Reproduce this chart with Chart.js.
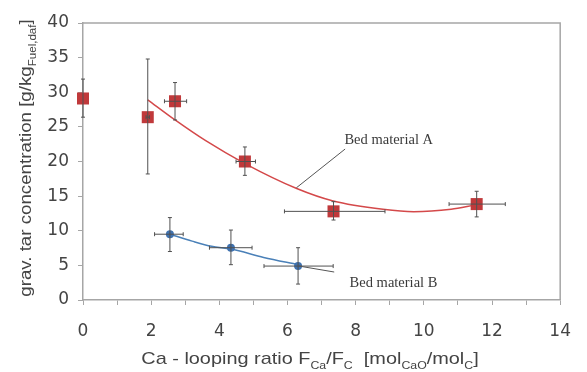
<!DOCTYPE html>
<html>
<head>
<meta charset="utf-8">
<script src="https://cdn.jsdelivr.net/npm/chart.js@4/dist/chart.umd.min.js"></script>
<style>
  html, body { margin: 0; padding: 0; background: #fff; }
  #wrap { width: 587px; height: 372px; }
</style>
</head>
<body>
<div id="wrap"><canvas id="chart"></canvas></div>
<script>
// bed material A (red squares)
const xA = [0, 1.9, 2.7, 4.75, 7.35, 11.55];
const yA = [29.1, 26.4, 28.7, 20.0, 12.8, 13.85];
const yLoA = [26.4, 18.2, 26.0, 18.0, 11.55, 12.0];
const yHiA = [31.9, 34.8, 31.4, 22.1, 14.2, 15.7];
const xLoA = [0, 1.85, 2.39, 4.49, 5.91, 10.74];
const xHiA = [0, 1.95, 3.04, 5.06, 8.86, 12.39];

// bed material B (blue dots)
const xB = [2.55, 4.34, 6.31];
const yB = [9.5, 7.55, 4.9];
const yLoB = [7.0, 5.1, 2.3];
const yHiB = [11.9, 10.1, 7.55];
const xLoB = [2.1, 3.71, 5.31];
const xHiB = [2.94, 4.96, 7.34];

// fitted trend lines
const fitAx = [1.9, 2.7, 3.6, 4.75, 6.27, 7.34, 8.8, 9.7, 10.8, 11.5];
const fitAy = [28.9, 26.0, 23.0, 19.7, 16.1, 14.3, 13.1, 12.75, 13.1, 13.7];
const fitBx = [2.55, 3.2, 3.77, 4.34, 5.3, 6.31];
const fitBy = [9.5, 8.5, 7.75, 7.35, 6.15, 5.1];

// annotations: [text, labelX, labelY, lineX1, lineY1, lineX2, lineY2]
const notes = [
  ['Bed material A', 8.97, 23.1, 7.69, 21.8, 6.26, 16.2],
  ['Bed material B', 9.11, 2.45, 6.34, 4.9, 7.37, 4.04]
];

const xTitle = [['Ca - looping ratio F', 0], ['Ca', 1], ['/F', 0], ['C', 1], ['  [mol', 0], ['CaO', 1], ['/mol', 0], ['C', 1], [']', 0]];
const yTitle = [['grav. tar concentration [g/kg', 0], ['Fuel,daf', 1], [']', 0]];

const textCol = '#444';
const axisCol = '#a6a6a6';

function pts(xs, ys) {
  return xs.map((x, i) => ({ x: x, y: ys[i] }));
}

function richWidth(ctx, parts, size, stretch) {
  let w = 0;
  parts.forEach(p => {
    ctx.font = (p[1] ? size * 0.62 : size) + 'px "Liberation Sans", Arial, sans-serif';
    w += ctx.measureText(p[0]).width;
  });
  return w * stretch;
}

function drawRich(ctx, parts, size, stretch) {
  const total = richWidth(ctx, parts, size, stretch);
  ctx.save();
  ctx.scale(stretch, 1);
  let x = -total / 2 / stretch;
  parts.forEach(p => {
    ctx.font = (p[1] ? size * 0.62 : size) + 'px "Liberation Sans", Arial, sans-serif';
    ctx.fillText(p[0], x, p[1] ? size * 0.28 : 0);
    x += ctx.measureText(p[0]).width;
  });
  ctx.restore();
}

const extras = {
  id: 'extras',
  afterDatasetsDraw(chart) {
    const ctx = chart.ctx;
    const xs = chart.scales.x, ys = chart.scales.y;
    const a = chart.chartArea;

    // frame on top and right
    ctx.save();
    ctx.strokeStyle = axisCol;
    ctx.lineWidth = 1.5;
    ctx.beginPath();
    ctx.moveTo(a.left, a.top);
    ctx.lineTo(a.right, a.top);
    ctx.lineTo(a.right, a.bottom);
    ctx.stroke();

    // error bars
    ctx.strokeStyle = '#505050';
    ctx.lineWidth = 1;
    function errs(xv, yv, ylo, yhi, xlo, xhi) {
      xv.forEach((x, i) => {
        const px = xs.getPixelForValue(x), py = ys.getPixelForValue(yv[i]);
        const t = ys.getPixelForValue(yhi[i]), b = ys.getPixelForValue(ylo[i]);
        ctx.beginPath();
        ctx.moveTo(px, t); ctx.lineTo(px, b);
        ctx.moveTo(px - 2, t); ctx.lineTo(px + 2, t);
        ctx.moveTo(px - 2, b); ctx.lineTo(px + 2, b);
        if (xhi[i] > xlo[i]) {
          const l = xs.getPixelForValue(xlo[i]), r = xs.getPixelForValue(xhi[i]);
          ctx.moveTo(l, py); ctx.lineTo(r, py);
          ctx.moveTo(l, py - 2); ctx.lineTo(l, py + 2);
          ctx.moveTo(r, py - 2); ctx.lineTo(r, py + 2);
        }
        ctx.stroke();
      });
    }
    errs(xA, yA, yLoA, yHiA, xLoA, xHiA);
    errs(xB, yB, yLoB, yHiB, xLoB, xHiB);

    // annotations
    ctx.strokeStyle = '#555';
    ctx.fillStyle = '#3a3a3a';
    ctx.font = '14.5px "Liberation Serif", "Times New Roman", serif';
    ctx.textAlign = 'center';
    ctx.textBaseline = 'middle';
    notes.forEach(n => {
      ctx.fillText(n[0], xs.getPixelForValue(n[1]), ys.getPixelForValue(n[2]));
      ctx.beginPath();
      ctx.moveTo(xs.getPixelForValue(n[3]), ys.getPixelForValue(n[4]));
      ctx.lineTo(xs.getPixelForValue(n[5]), ys.getPixelForValue(n[6]));
      ctx.stroke();
    });
    ctx.restore();
  },
  afterDraw(chart) {
    const ctx = chart.ctx;
    ctx.save();
    ctx.fillStyle = textCol;
    ctx.textAlign = 'left';
    ctx.textBaseline = 'alphabetic';
    ctx.save();
    ctx.translate(310, 364);
    drawRich(ctx, xTitle, 17, 1.17);
    ctx.restore();
    ctx.save();
    ctx.translate(31, 158);
    ctx.rotate(-Math.PI / 2);
    drawRich(ctx, yTitle, 17, 1.1);
    ctx.restore();
    ctx.restore();
  }
};

new Chart(document.getElementById('chart'), {
  type: 'scatter',
  data: {
    datasets: [
      {
        label: 'fit A',
        data: pts(fitAx, fitAy),
        showLine: true,
        borderColor: '#d4494a',
        borderWidth: 1.5,
        pointRadius: 0,
        cubicInterpolationMode: 'monotone',
        order: 3
      },
      {
        label: 'fit B',
        data: pts(fitBx, fitBy),
        showLine: true,
        borderColor: '#4a80b8',
        borderWidth: 1.5,
        pointRadius: 0,
        cubicInterpolationMode: 'monotone',
        order: 3
      },
      {
        label: 'Bed material A',
        data: pts(xA, yA),
        pointStyle: 'rect',
        pointRadius: 8.5,
        backgroundColor: '#c0393b',
        borderColor: '#c0393b',
        borderWidth: 0,
        clip: false,
        order: 1
      },
      {
        label: 'Bed material B',
        data: pts(xB, yB),
        pointStyle: 'circle',
        pointRadius: 4,
        backgroundColor: '#3f72b0',
        borderColor: '#3f72b0',
        borderWidth: 0,
        clip: false,
        order: 1
      }
    ]
  },
  options: {
    responsive: true,
    maintainAspectRatio: false,
    animation: false,
    events: [],
    layout: { padding: { top: 23, right: 14, left: 0, bottom: 0 } },
    plugins: {
      legend: { display: false },
      tooltip: { enabled: false }
    },
    scales: {
      x: {
        type: 'linear',
        min: 0,
        max: 14,
        afterFit: s => { s.height = 72; },
        border: { color: axisCol, width: 1.5 },
        grid: { drawOnChartArea: false, color: axisCol, tickLength: 5 },
        ticks: {
          stepSize: 1,
          autoSkip: false,
          maxRotation: 0,
          padding: 16,
          color: textCol,
          font: { family: '"DejaVu Sans", sans-serif', size: 17 },
          callback: v => (v % 2 === 0 ? String(v) : '')
        }
      },
      y: {
        min: 0,
        max: 40,
        afterFit: s => { s.width = 83; },
        border: { color: axisCol, width: 1.5 },
        grid: { drawOnChartArea: false, color: axisCol, tickLength: 5 },
        ticks: {
          stepSize: 5,
          padding: 9,
          color: textCol,
          font: { family: '"DejaVu Sans", sans-serif', size: 17 }
        }
      }
    }
  },
  plugins: [extras]
});
</script>
</body>
</html>
